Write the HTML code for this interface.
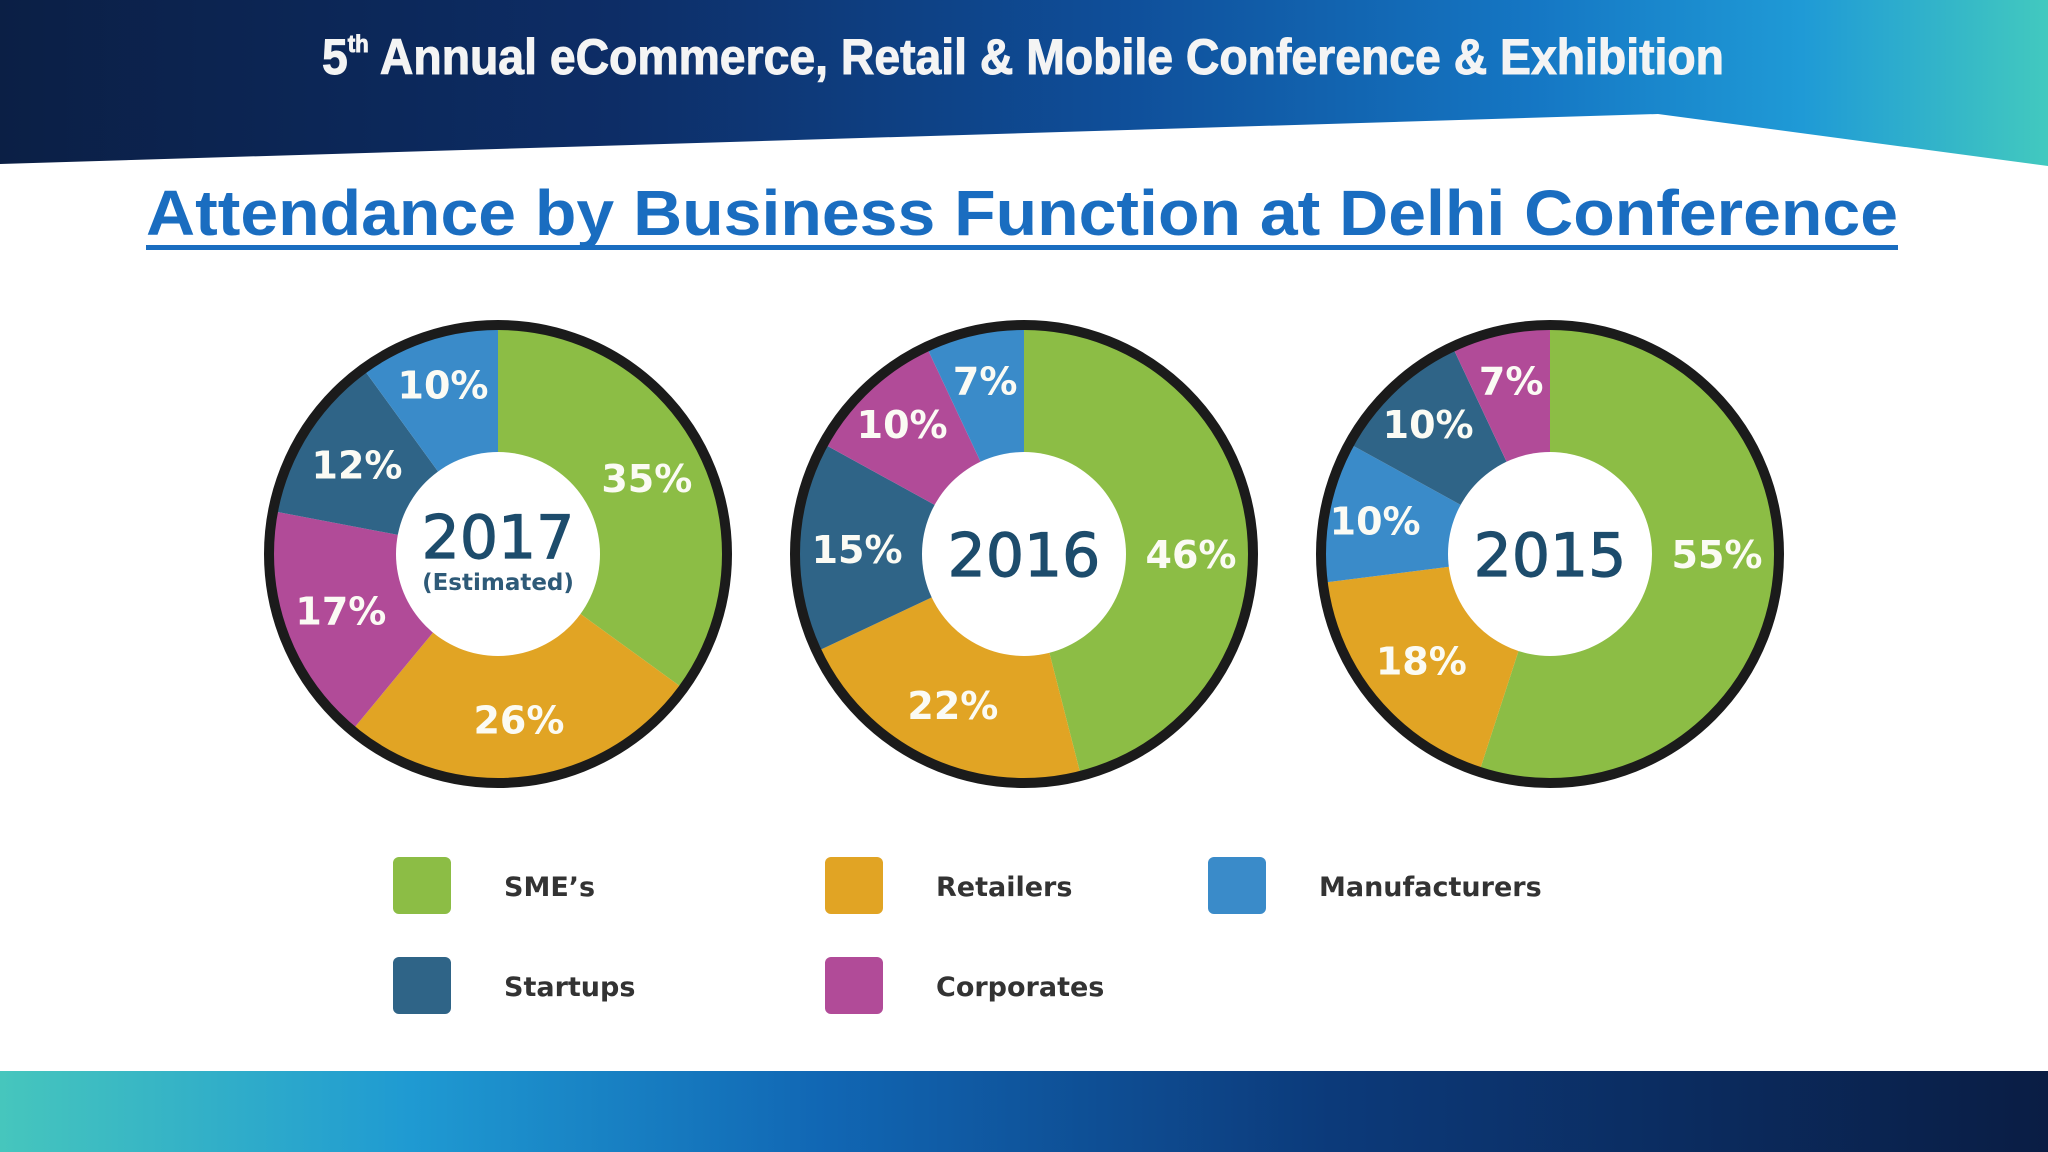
<!DOCTYPE html>
<html><head><meta charset="utf-8"><style>
html,body{margin:0;padding:0;background:#fff;}
svg{display:block;}
</style></head><body>
<svg id="chart" width="2048" height="1152" viewBox="0 0 2048 1152" xmlns="http://www.w3.org/2000/svg">
<defs>
<linearGradient id="hdr" x1="0" y1="0" x2="1" y2="0">
<stop offset="0" stop-color="#0b1f45"/><stop offset="0.3" stop-color="#0d2d66"/><stop offset="0.55" stop-color="#0f4f9a"/><stop offset="0.75" stop-color="#1577c4"/><stop offset="0.88" stop-color="#1f9ad6"/><stop offset="1" stop-color="#42c9bf"/>
</linearGradient>
<linearGradient id="ftr" x1="0" y1="0" x2="1" y2="0">
<stop offset="0" stop-color="#46c6bd"/><stop offset="0.2" stop-color="#1f9ad2"/><stop offset="0.4" stop-color="#1167b4"/><stop offset="0.65" stop-color="#0c3a7a"/><stop offset="1" stop-color="#0a1d44"/>
</linearGradient>
</defs>
<rect x="0" y="0" width="2048" height="175" fill="url(#hdr)"/>
<polygon points="0,164 1658,114 2048,166 2048,175 0,175" fill="#fff"/>
<text x="322" y="74" textLength="1402" lengthAdjust="spacingAndGlyphs" font-family="Liberation Sans Narrow, Liberation Sans, sans-serif" font-weight="bold" font-size="50" fill="#f4f4f4" stroke="#f4f4f4" stroke-width="1">5<tspan font-size="24" dy="-22">th</tspan><tspan dy="22"> Annual eCommerce, Retail &amp; Mobile Conference &amp; Exhibition</tspan></text>
<text x="146" y="235" textLength="1752" lengthAdjust="spacingAndGlyphs" font-family="Liberation Sans, sans-serif" font-weight="bold" font-size="64" fill="#1a6dc0">Attendance by Business Function at Delhi Conference</text>
<rect x="146" y="245" width="1752" height="5" fill="#1a6dc0"/>
<g id="pies"></g>
<g id="legend"></g>
<rect x="0" y="1071" width="2048" height="81" fill="url(#ftr)"/>
</svg>
<script>
const years = ['2017', '2016', '2015'];
const subtitles = ['(Estimated)', '', ''];
const pie2017Cats = ['SME', 'Retailers', 'Corporates', 'Startups', 'Manufacturers'];
const pie2017Vals = [35, 26, 17, 12, 10];
const pie2016Cats = ['SME', 'Retailers', 'Startups', 'Corporates', 'Manufacturers'];
const pie2016Vals = [46, 22, 15, 10, 7];
const pie2015Cats = ['SME', 'Retailers', 'Manufacturers', 'Startups', 'Corporates'];
const pie2015Vals = [55, 18, 10, 10, 7];
const legendCats = ['SME', 'Retailers', 'Manufacturers', 'Startups', 'Corporates'];
const legendLabels = ['SME\u2019s', 'Retailers', 'Manufacturers', 'Startups', 'Corporates'];

const colors = {SME:'#8cbd45', Retailers:'#e1a424', Corporates:'#b14b98', Startups:'#2f6487', Manufacturers:'#3a8bc9'};
const NS = 'http://www.w3.org/2000/svg';
const pieCats = [pie2017Cats, pie2016Cats, pie2015Cats];
const pieVals = [pie2017Vals, pie2016Vals, pie2015Vals];
const cx0 = 498, dx = 526, cy = 554, R = 225, Rin = 102, ring = 10;
function pt(cx, cy, r, a){ return [cx + r*Math.sin(a), cy - r*Math.cos(a)]; }
const gp = document.getElementById('pies');
pieVals.forEach((vals, pi) => {
  const cx = cx0 + pi*dx;
  const total = vals.reduce((a,b)=>a+b,0);
  const g = document.createElementNS(NS,'g');
  
  
  gp.appendChild(g);
  let acc = 0;
  vals.forEach((v, i) => {
    const a0 = acc/total*2*Math.PI; acc += v; const a1 = acc/total*2*Math.PI;
    const p0 = pt(cx,cy,R,a0), p1 = pt(cx,cy,R,a1);
    const large = (a1-a0) > Math.PI ? 1 : 0;
    const path = document.createElementNS(NS,'path');
    path.setAttribute('d', `M${cx},${cy} L${p0[0]},${p0[1]} A${R},${R} 0 ${large} 1 ${p1[0]},${p1[1]} Z`);
    path.setAttribute('fill', colors[pieCats[pi][i]]);
    
    
    g.appendChild(path);
    let am = (a0+a1)/2;
    if (v/total > 0.4) am = Math.PI/2;
    const lr = v/total < 0.11 ? 178 : 167;
    const lp = pt(cx,cy,lr,am);
    const t = document.createElementNS(NS,'text');
    t.setAttribute('x', lp[0]); t.setAttribute('y', lp[1] + 14);
    t.setAttribute('text-anchor','middle');
    t.setAttribute('font-family','DejaVu Sans, Liberation Sans, sans-serif');
    t.setAttribute('font-weight','bold'); t.setAttribute('font-size','38');
    t.setAttribute('fill','#fbfbf4');
    
    
    t.textContent = v + '%';
    g.appendChild(t);
  });
  const ringC = document.createElementNS(NS,'circle');
  ringC.setAttribute('cx',cx); ringC.setAttribute('cy',cy); ringC.setAttribute('r',R+ring/2-1);
  ringC.setAttribute('fill','none'); ringC.setAttribute('stroke','#1b1b1b'); ringC.setAttribute('stroke-width',ring);
  
  
  g.appendChild(ringC);
  const hole = document.createElementNS(NS,'circle');
  hole.setAttribute('cx',cx); hole.setAttribute('cy',cy); hole.setAttribute('r',Rin);
  hole.setAttribute('fill','#fff');
  
  
  g.appendChild(hole);
  const yt = document.createElementNS(NS,'text');
  const hasSub = subtitles[pi] !== '';
  yt.setAttribute('x',cx); yt.setAttribute('y', hasSub ? cy+4 : cy+22);
  yt.setAttribute('text-anchor','middle');
  yt.setAttribute('font-family','DejaVu Sans, Liberation Sans, sans-serif');
  yt.setAttribute('font-size', '60'); yt.setAttribute('fill','#1d4c6c');
  yt.setAttribute('stroke','#1d4c6c'); yt.setAttribute('stroke-width','1.2');
  
  
  yt.textContent = years[pi];
  g.appendChild(yt);
  if (hasSub) {
    const st = document.createElementNS(NS,'text');
    st.setAttribute('x',cx); st.setAttribute('y',cy+36);
    st.setAttribute('text-anchor','middle');
    st.setAttribute('font-family','DejaVu Sans, Liberation Sans, sans-serif');
    st.setAttribute('font-weight','bold'); st.setAttribute('font-size','23'); st.setAttribute('fill','#2e5a78');
    
    
    st.textContent = subtitles[pi];
    g.appendChild(st);
  }
});
const gl = document.getElementById('legend');
const lx = [393, 825, 1208], ly = [857, 957];
legendCats.forEach((c, i) => {
  const col = i % 3, row = Math.floor(i / 3);
  const g = document.createElementNS(NS,'g');
  
  
  gl.appendChild(g);
  const r = document.createElementNS(NS,'rect');
  r.setAttribute('x', lx[col]); r.setAttribute('y', ly[row]);
  r.setAttribute('width',58); r.setAttribute('height',57); r.setAttribute('rx',6);
  r.setAttribute('fill', colors[c]);
  
  
  g.appendChild(r);
  const t = document.createElementNS(NS,'text');
  t.setAttribute('x', lx[col] + 111); t.setAttribute('y', ly[row] + 39);
  t.setAttribute('font-family','DejaVu Sans, Liberation Sans, sans-serif');
  t.setAttribute('font-weight','bold'); t.setAttribute('font-size','27'); t.setAttribute('fill','#333');
  
  
  t.textContent = legendLabels[i];
  g.appendChild(t);
});
</script>
</body></html>
